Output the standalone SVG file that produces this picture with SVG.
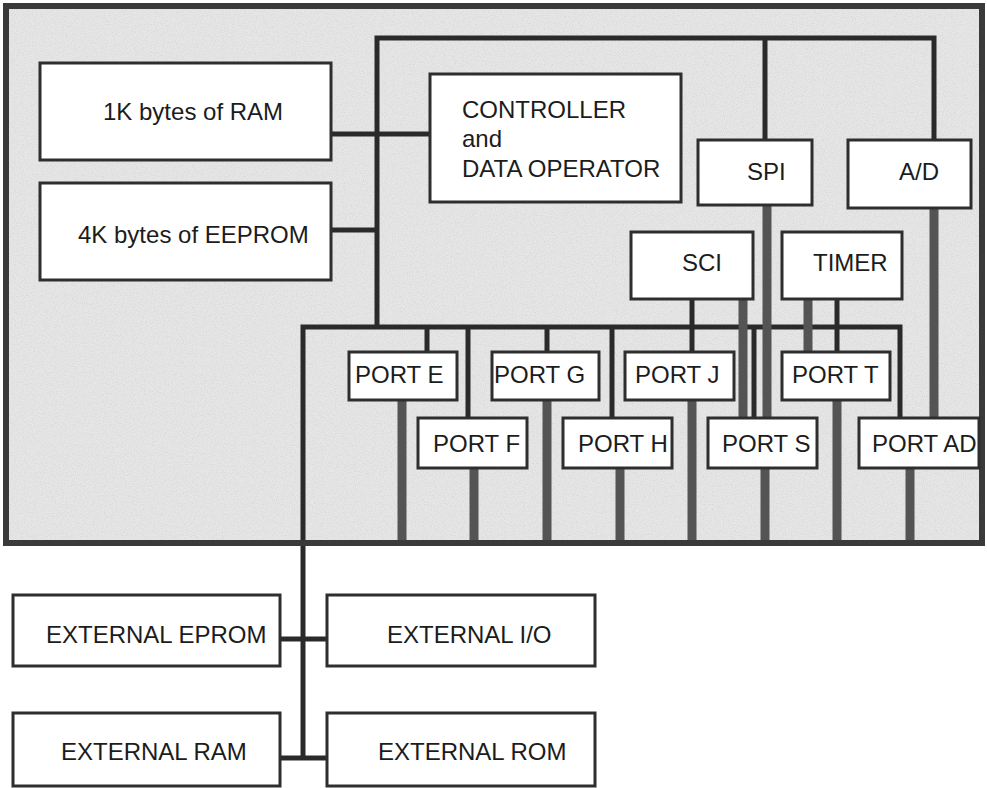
<svg xmlns="http://www.w3.org/2000/svg" width="987" height="788" viewBox="0 0 987 788">
<defs>
<filter id="grain" x="0" y="0" width="100%" height="100%">
<feTurbulence type="fractalNoise" baseFrequency="0.9" numOctaves="2" seed="3" result="n"/>
<feColorMatrix in="n" type="matrix" values="0 0 0 0 0.55  0 0 0 0 0.55  0 0 0 0 0.55  0 0 0 -2.2 1.25" result="g"/>
<feComposite in="g" in2="SourceGraphic" operator="in"/>
</filter>
<style>
.box{fill:#ffffff;stroke:#2e2e2e;stroke-width:3}
.t{font-family:"Liberation Sans",Arial,Helvetica,sans-serif;font-size:24px;fill:#1c1c1c}
.thin{fill:none;stroke:#2a2a2a;stroke-width:5}
.thick{fill:none;stroke:#545454;stroke-width:9}
</style>
</defs>
<rect x="0" y="0" width="987" height="788" fill="#ffffff"/>
<g id="chip">
<rect x="6" y="6" width="976" height="537" fill="#e6e6e6"/>
<rect x="6" y="6" width="976" height="537" fill="#e6e6e6" filter="url(#grain)" opacity="0.45"/>
</g>
<g id="connectors">
<path class="thin" d="M377,327 V38 H934 V140"/>
<path class="thin" d="M765,38 V140"/>
<path class="thin" d="M331,134 H430"/>
<path class="thin" d="M331,230 H377"/>
<path class="thin" d="M303,758 V327 H900 V418"/>
<path class="thin" d="M427,327 V352"/>
<path class="thin" d="M468,327 V418"/>
<path class="thin" d="M547,327 V352"/>
<path class="thin" d="M612,327 V418"/>
<path class="thin" d="M692,299 V352"/>
<path class="thin" d="M754,327 V418"/>
<path class="thin" d="M837,299 V352"/>
<path class="thick" d="M743,299 V418"/>
<path class="thick" d="M767,205 V418"/>
<path class="thick" d="M808,299 V352"/>
<path class="thick" d="M934,208 V418"/>
<path class="thick" d="M402,400 V543"/>
<path class="thick" d="M474,468 V543"/>
<path class="thick" d="M547,400 V543"/>
<path class="thick" d="M620,468 V543"/>
<path class="thick" d="M692,400 V543"/>
<path class="thick" d="M765,468 V543"/>
<path class="thick" d="M837,400 V543"/>
<path class="thick" d="M910,468 V543"/>
<path class="thin" d="M280,639 H327"/>
<path class="thin" d="M280,758 H327"/>
</g>
<rect x="6" y="6" width="976" height="537" fill="none" stroke="#3a3a3a" stroke-width="6"/>
<g id="ram"><rect class="box" x="40" y="63" width="291" height="97"/><text class="t" x="103" y="120">1K bytes of RAM</text></g>
<g id="eeprom"><rect class="box" x="40" y="183" width="291" height="97"/><text class="t" x="78" y="243">4K bytes of EEPROM</text></g>
<g id="controller"><rect class="box" x="430" y="74" width="251" height="128"/><text class="t" x="462" y="118">CONTROLLER</text><text class="t" x="462" y="147">and</text><text class="t" x="462" y="177">DATA OPERATOR</text></g>
<g id="spi"><rect class="box" x="698" y="140" width="114" height="65"/><text class="t" x="747" y="180">SPI</text></g>
<g id="ad"><rect class="box" x="848" y="140" width="123" height="68"/><text class="t" x="899" y="180">A/D</text></g>
<g id="sci"><rect class="box" x="631" y="232" width="122" height="67"/><text class="t" x="682" y="271">SCI</text></g>
<g id="timer"><rect class="box" x="782" y="232" width="120" height="67"/><text class="t" x="813" y="271">TIMER</text></g>
<g id="porte"><rect class="box" x="349" y="352" width="108" height="48"/><text class="t" x="355" y="383">PORT E</text></g>
<g id="portg"><rect class="box" x="492" y="352" width="107" height="48"/><text class="t" x="494" y="383">PORT G</text></g>
<g id="portj"><rect class="box" x="625" y="352" width="109" height="48"/><text class="t" x="635" y="383">PORT J</text></g>
<g id="portt"><rect class="box" x="782" y="352" width="108" height="48"/><text class="t" x="792" y="383">PORT T</text></g>
<g id="portf"><rect class="box" x="418" y="418" width="109" height="50"/><text class="t" x="433" y="452">PORT F</text></g>
<g id="porth"><rect class="box" x="563" y="418" width="109" height="50"/><text class="t" x="578" y="452">PORT H</text></g>
<g id="ports"><rect class="box" x="708" y="418" width="109" height="50"/><text class="t" x="722" y="452">PORT S</text></g>
<g id="portad"><rect class="box" x="859" y="418" width="120" height="50"/><text class="t" x="872" y="452">PORT AD</text></g>
<g id="ext-eprom"><rect class="box" x="13" y="595" width="267" height="71"/><text class="t" x="46" y="643">EXTERNAL EPROM</text></g>
<g id="ext-io"><rect class="box" x="327" y="595" width="268" height="71"/><text class="t" x="387" y="643">EXTERNAL I/O</text></g>
<g id="ext-ram"><rect class="box" x="13" y="713" width="267" height="73"/><text class="t" x="61" y="760">EXTERNAL RAM</text></g>
<g id="ext-rom"><rect class="box" x="327" y="713" width="268" height="73"/><text class="t" x="378" y="760">EXTERNAL ROM</text></g>
</svg>
